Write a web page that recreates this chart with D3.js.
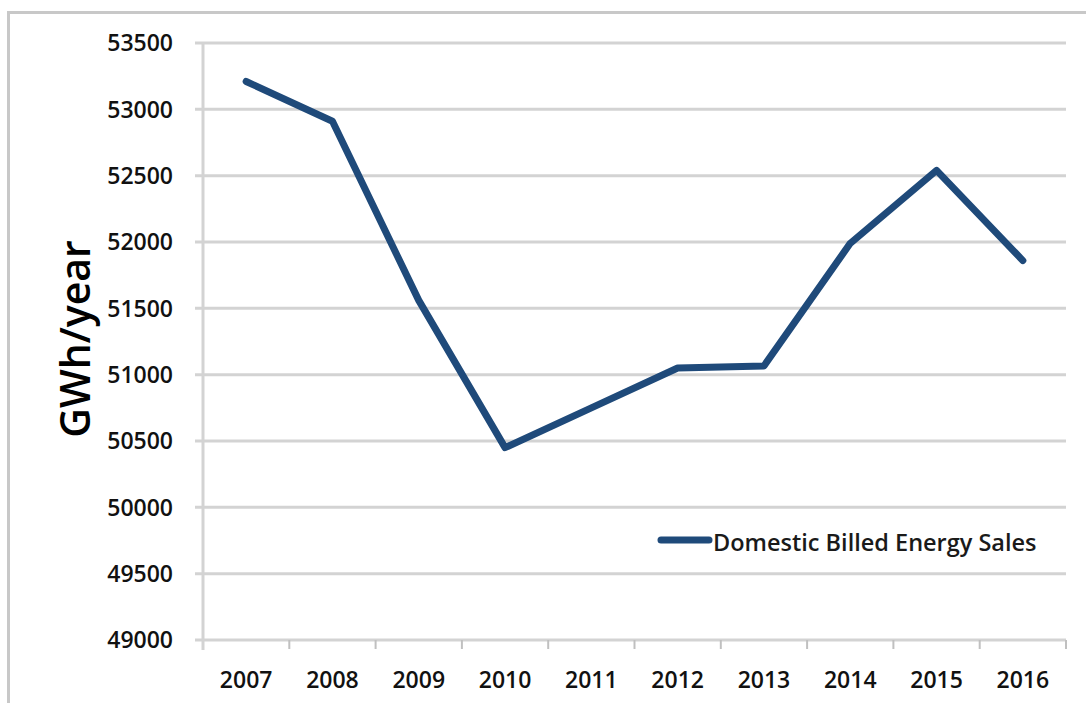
<!DOCTYPE html>
<html>
<head>
<meta charset="utf-8">
<script src="https://cdn.jsdelivr.net/npm/d3@7"></script>
<style>
	body { margin: 0; background: #fff; }
	svg { display: block; font-family: 'Open Sans', sans-serif; }
</style>
</head>
<body>
<div id="chart"></div>
<script>
const width = 1086;
const height = 703;

// data
const years = ['2007', '2008', '2009', '2010', '2011', '2012', '2013', '2014', '2015', '2016'];
const sales = [53210, 52910, 51560, 50450, 50750, 51050, 51066, 51990, 52540, 51860];
const yTicks = [49000, 49500, 50000, 50500, 51000, 51500, 52000, 52500, 53000, 53500];
const seriesName = 'Domestic Billed Energy Sales';

const margin = { top: 43, right: 20, bottom: 63, left: 203 };

const svg = d3.select('#chart').append('svg').attr('width', width).attr('height', height);

// outer frame (only top and left visible in the crop)
svg.append('path')
	.attr('d', `M8.5,${height} V12.5 H${width}`)
	.attr('fill', 'none')
	.attr('stroke', '#c8c8c8')
	.attr('stroke-width', 3);

const x = d3
	.scaleBand()
	.domain(years)
	.range([margin.left, 1066]);

const y = d3
	.scaleLinear()
	.domain([49000, 53500])
	.range([height - margin.bottom, margin.top]);

// gridlines ================================================================
svg.append('g')
	.selectAll('line')
	.data(yTicks)
	.join('line')
	.attr('x1', margin.left - 8)
	.attr('x2', 1066)
	.attr('y1', (d) => y(d))
	.attr('y2', (d) => y(d))
	.attr('stroke', '#d3d3d3')
	.attr('stroke-width', 3);

// y axis line
svg.append('line')
	.attr('x1', margin.left)
	.attr('x2', margin.left)
	.attr('y1', margin.top)
	.attr('y2', y(49000) + 10)
	.attr('stroke', '#d3d3d3')
	.attr('stroke-width', 3);

// x ticks between categories
const xBounds = years.map((d) => x(d)).concat([x(years[years.length - 1]) + x.bandwidth()]);
svg.append('g')
	.selectAll('line')
	.data(xBounds.slice(1))
	.join('line')
	.attr('x1', (d) => d)
	.attr('x2', (d) => d)
	.attr('y1', y(49000))
	.attr('y2', y(49000) + 9)
	.attr('stroke', '#c0c0c0')
	.attr('stroke-width', 2);

// y tick labels
svg.append('g')
	.selectAll('text')
	.data(yTicks)
	.join('text')
	.attr('x', 173)
	.attr('y', (d) => y(d))
	.attr('dy', '0.36em')
	.attr('text-anchor', 'end')
	.style('font-size', '23px')
	.style('font-weight', 600)
	.style('fill', '#111')
	.text((d) => d);

// x tick labels
svg.append('g')
	.selectAll('text')
	.data(years)
	.join('text')
	.attr('x', (d) => x(d) + x.bandwidth() / 2)
	.attr('y', 680)
	.attr('dy', '0.36em')
	.attr('text-anchor', 'middle')
	.style('font-size', '23px')
	.style('font-weight', 600)
	.style('fill', '#111')
	.text((d) => d);

// y axis title
svg.append('text')
	.attr('transform', `translate(90,339) rotate(-90)`)
	.attr('text-anchor', 'middle')
	.style('font-size', '41px')
	.style('font-weight', 600)
	.style('fill', '#000')
	.text('GWh/year');

// line ================================================================
const line = d3
	.line()
	.x((d, i) => x(years[i]) + x.bandwidth() / 2)
	.y((d) => y(d));

svg.append('path')
	.datum(sales)
	.attr('d', line)
	.attr('fill', 'none')
	.attr('stroke', '#1f4a7a')
	.attr('stroke-width', 7)
	.attr('stroke-linejoin', 'round')
	.attr('stroke-linecap', 'round');

// legend
const legend = svg.append('g').attr('transform', 'translate(661,540)');
legend.append('line')
	.attr('x1', 0)
	.attr('x2', 48)
	.attr('stroke', '#1f4a7a')
	.attr('stroke-width', 7)
	.attr('stroke-linecap', 'round');
legend.append('text')
	.attr('x', 52)
	.attr('y', 3)
	.attr('dy', '0.36em')
	.style('font-size', '23.5px')
	.style('font-weight', 600)
	.style('fill', '#1a1a1a')
	.text(seriesName);
</script>
</body>
</html>
